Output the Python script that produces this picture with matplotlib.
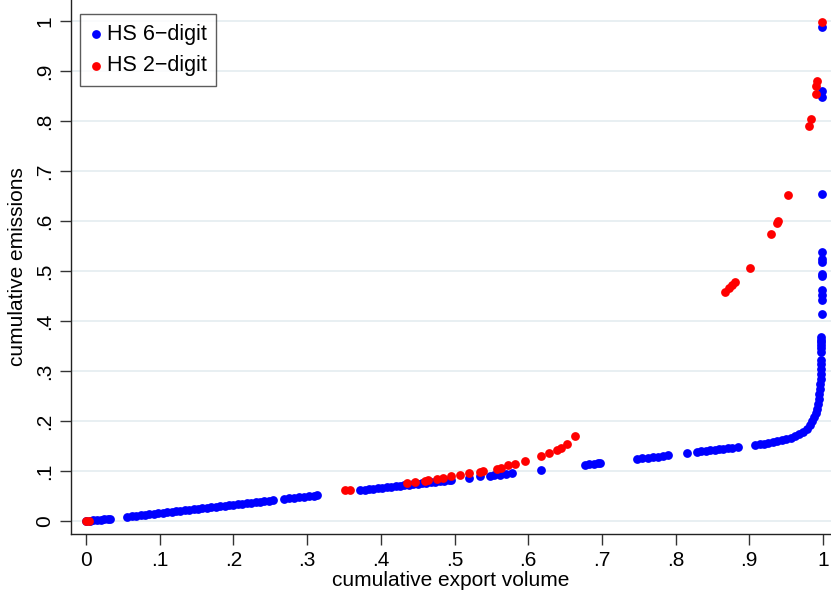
import matplotlib
matplotlib.use('Agg')
import matplotlib.pyplot as plt

plt.rcParams['font.family'] = ['Liberation Sans', 'DejaVu Sans']

# HS 6-digit (blue)
hs6_x = [0.000, 0.005, 0.010, 0.015, 0.020, 0.025, 0.030, 0.033,
         0.056, 0.062, 0.068, 0.074, 0.080, 0.086, 0.092, 0.098, 0.104, 0.110,
         0.116, 0.122, 0.128, 0.134, 0.140, 0.146, 0.152, 0.158, 0.164, 0.170,
         0.176, 0.182, 0.188, 0.194, 0.200, 0.206, 0.212, 0.218, 0.224, 0.230,
         0.236, 0.242, 0.248, 0.254,
         0.268, 0.275, 0.282, 0.289, 0.296, 0.303, 0.309, 0.313,
         0.372, 0.378, 0.384, 0.390, 0.396, 0.402, 0.408, 0.414, 0.420, 0.426,
         0.432, 0.438, 0.444, 0.450, 0.456, 0.462, 0.468, 0.474, 0.480, 0.486,
         0.492, 0.495,
         0.520, 0.535, 0.548, 0.554, 0.562, 0.570, 0.578, 0.617,
         0.677, 0.683, 0.689, 0.695, 0.698,
         0.748, 0.755, 0.762, 0.769, 0.776, 0.783, 0.790, 0.816,
         0.829, 0.835, 0.841, 0.847, 0.853, 0.859, 0.865, 0.871, 0.877, 0.885,
         0.908, 0.914, 0.920, 0.926, 0.932, 0.938, 0.944, 0.950, 0.956, 0.962,
         0.968, 0.973, 0.978, 0.982, 0.985, 0.988, 0.990, 0.992, 0.993, 0.994,
         0.995, 0.996, 0.996, 0.997, 0.997, 0.997, 0.998, 0.998,
         0.998, 0.998, 0.998, 0.998, 0.998, 0.998, 0.999, 0.999, 0.999, 0.999,
         0.999, 0.999, 0.999, 0.999, 0.999, 0.999, 0.999, 0.999, 0.999]
hs6_y = [0.000, 0.001, 0.002, 0.002, 0.003, 0.004, 0.004, 0.005,
         0.009, 0.010, 0.011, 0.012, 0.013, 0.014, 0.015, 0.016, 0.017, 0.018,
         0.019, 0.020, 0.021, 0.022, 0.023, 0.024, 0.025, 0.026, 0.027, 0.028,
         0.029, 0.030, 0.031, 0.032, 0.033, 0.034, 0.035, 0.036, 0.037, 0.038,
         0.039, 0.040, 0.041, 0.043,
         0.045, 0.046, 0.047, 0.048, 0.049, 0.050, 0.051, 0.052,
         0.062, 0.063, 0.064, 0.065, 0.066, 0.067, 0.068, 0.069, 0.070, 0.071,
         0.072, 0.073, 0.074, 0.075, 0.076, 0.077, 0.078, 0.079, 0.080, 0.081,
         0.082, 0.083,
         0.087, 0.090, 0.091, 0.092, 0.093, 0.095, 0.097, 0.103,
         0.113, 0.114, 0.115, 0.116, 0.117,
         0.125, 0.126, 0.127, 0.128, 0.129, 0.131, 0.132, 0.137,
         0.139, 0.140, 0.141, 0.142, 0.143, 0.144, 0.145, 0.146, 0.147, 0.149,
         0.152, 0.154, 0.155, 0.157, 0.158, 0.160, 0.162, 0.164, 0.167, 0.170,
         0.174, 0.178, 0.184, 0.192, 0.200, 0.208, 0.216, 0.225, 0.234, 0.244,
         0.254, 0.264, 0.274, 0.284, 0.294, 0.304, 0.314, 0.322,
         0.339, 0.346, 0.352, 0.358, 0.362, 0.369, 0.415, 0.442, 0.452, 0.462,
         0.490, 0.495, 0.519, 0.525, 0.539, 0.655, 0.848, 0.861, 0.989]

# HS 2-digit (red)
hs2_x = [0.000, 0.004, 0.352, 0.358, 0.435, 0.446, 0.460, 0.464, 0.476, 0.484,
         0.495, 0.507, 0.520, 0.535, 0.539, 0.557, 0.563, 0.573, 0.582, 0.596,
         0.618, 0.628, 0.639, 0.645, 0.653, 0.664,
         0.867, 0.872, 0.877, 0.881, 0.901, 0.929, 0.938, 0.939, 0.953,
         0.981, 0.984, 0.990, 0.991, 0.992, 0.999]
hs2_y = [0.000, 0.000, 0.062, 0.062, 0.077, 0.079, 0.081, 0.082, 0.085, 0.087,
         0.090, 0.093, 0.097, 0.099, 0.101, 0.105, 0.107, 0.112, 0.115, 0.121,
         0.131, 0.137, 0.142, 0.147, 0.154, 0.170,
         0.459, 0.466, 0.473, 0.478, 0.507, 0.575, 0.597, 0.600, 0.653,
         0.790, 0.805, 0.854, 0.870, 0.880, 0.999]

ticks = [0, 0.1, 0.2, 0.3, 0.4, 0.5, 0.6, 0.7, 0.8, 0.9, 1]
tick_labels = ['0', '.1', '.2', '.3', '.4', '.5', '.6', '.7', '.8', '.9', '1']

fig = plt.figure(figsize=(8.31, 5.96), dpi=100)
ax = fig.add_axes([71 / 831, 62 / 596, 1 - 71 / 831, 1 - 62 / 596])

ax.scatter(hs6_x, hs6_y, s=40, color='#0000ff', linewidths=0, label='HS 6\u2212digit', zorder=3)
ax.scatter(hs2_x, hs2_y, s=40, color='#ff0000', linewidths=0, label='HS 2\u2212digit', zorder=4)

ax.set_xlim(-0.0204, 1.0109)
ax.set_ylim(-0.026, 1.042)
ax.set_xticks(ticks)
ax.set_xticklabels(tick_labels)
ax.set_yticks(ticks)
ax.set_yticklabels(tick_labels, rotation=90, va='center')

ax.grid(axis='y', color='#e6eef1', lw=1.3, zorder=0)
ax.set_axisbelow(True)
for side in ['top', 'right']:
    ax.spines[side].set_visible(False)
for side in ['left', 'bottom']:
    ax.spines[side].set_color('#222222')
    ax.spines[side].set_linewidth(1.0)

ax.tick_params(direction='out', length=8, width=1, color='#333333', labelsize=15, pad=4)
ax.set_xlabel('cumulative export volume', fontsize=15, labelpad=1)
ax.set_ylabel('cumulative emissions', fontsize=15, labelpad=6)

leg = ax.legend(loc='upper left', bbox_to_anchor=(9 / 760, 1 - 14 / 534), fontsize=15.5,
                frameon=True, fancybox=False, handletextpad=0.2, borderpad=0.45,
                labelspacing=0.5, handlelength=0.6, scatterpoints=1, borderaxespad=0)
leg.get_frame().set_edgecolor('#333333')
leg.get_frame().set_linewidth(1.0)

plt.savefig('out.png', dpi=100)
